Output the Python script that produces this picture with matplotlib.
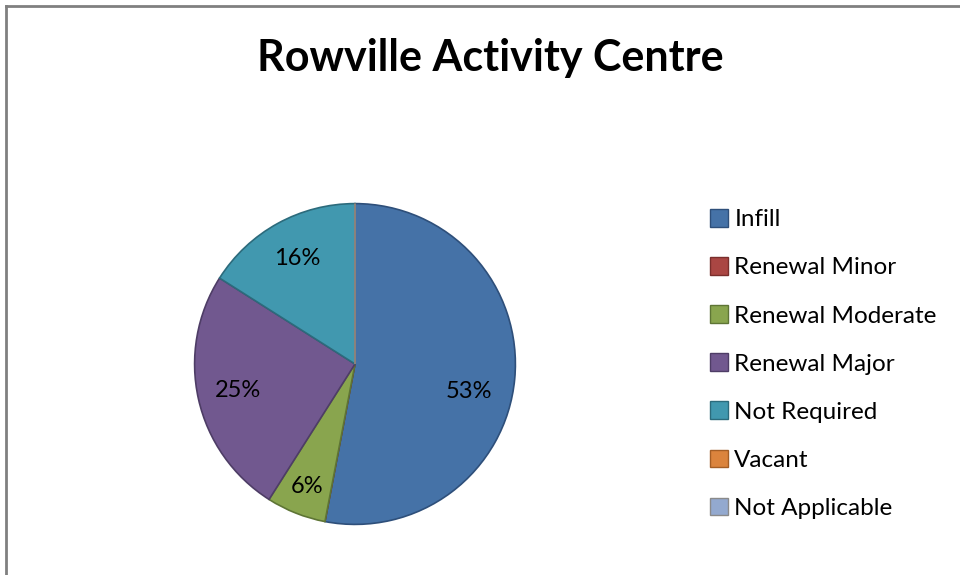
import matplotlib
matplotlib.use("Agg")
import matplotlib.pyplot as plt
from matplotlib.patches import Patch
from matplotlib.lines import Line2D

plt.rcParams['font.family'] = ['Lato', 'DejaVu Sans']

# Data
categories = ["Infill", "Renewal Minor", "Renewal Moderate", "Renewal Major",
              "Not Required", "Vacant", "Not Applicable"]
shares = [53, 0, 6, 25, 16, 0, 0]
colors = ["#4572A7", "#AA4643", "#89A54E", "#71588F", "#4198AF", "#DB843D", "#93A9CF"]
edges = ["#2E4F7A", "#7A2E2C", "#5E7535", "#4E3D66", "#2C6B7C", "#A45E25", "#8A8A8A"]

fig = plt.figure(figsize=(9.6, 5.75), dpi=100)
W, H = 960, 575

# outer frame: left and top edges of the chart border
fig.add_artist(Line2D([5.5 / W, 1.0], [1 - 5.5 / H, 1 - 5.5 / H], transform=fig.transFigure,
                      color="#808080", linewidth=2))
fig.add_artist(Line2D([5.5 / W, 5.5 / W], [0.0, 1 - 5.5 / H], transform=fig.transFigure,
                      color="#808080", linewidth=2))

fig.text(490 / W, 1 - 58 / H, "Rowville Activity Centre", ha="center", va="center",
         fontsize=31, fontweight="bold")

# pie axes
cx, cy, r = 355, 364, 162
ax = fig.add_axes([(cx - r) / W, (H - cy - r) / H, 2 * r / W, 2 * r / H])
wedges, texts, autotexts = ax.pie(
    shares, colors=colors, startangle=90, counterclock=False, radius=1,
    autopct=lambda p: f"{p:.0f}%" if p > 0.5 else "", pctdistance=0.75,
    wedgeprops=dict(linewidth=1.2), textprops=dict(fontsize=17, color="black"))
for w, ec in zip(wedges, edges):
    w.set_edgecolor(ec)
# Excel-style label placement for the largest and smallest slices
autotexts[0].set_position((0.71, -0.17))
x6, y6 = autotexts[2].get_position()
autotexts[2].set_position((x6 * 0.82 / 0.75, y6 * 0.82 / 0.75))
ax.set_aspect("equal")
ax.set_xlim(-1.01, 1.01)
ax.set_ylim(-1.01, 1.01)
ax.axis("off")

handles = [Patch(facecolor=c, edgecolor=e, linewidth=1) for c, e in zip(colors, edges)]
fig.legend(handles, categories, loc="upper left", bbox_to_anchor=(710 / W, 1 - 209 / H),
           frameon=False, fontsize=17.5, handlelength=0.75, handleheight=0.75,
           handletextpad=0.25, labelspacing=1.1, borderaxespad=0, borderpad=0)

fig.savefig("out.png", dpi=100)
